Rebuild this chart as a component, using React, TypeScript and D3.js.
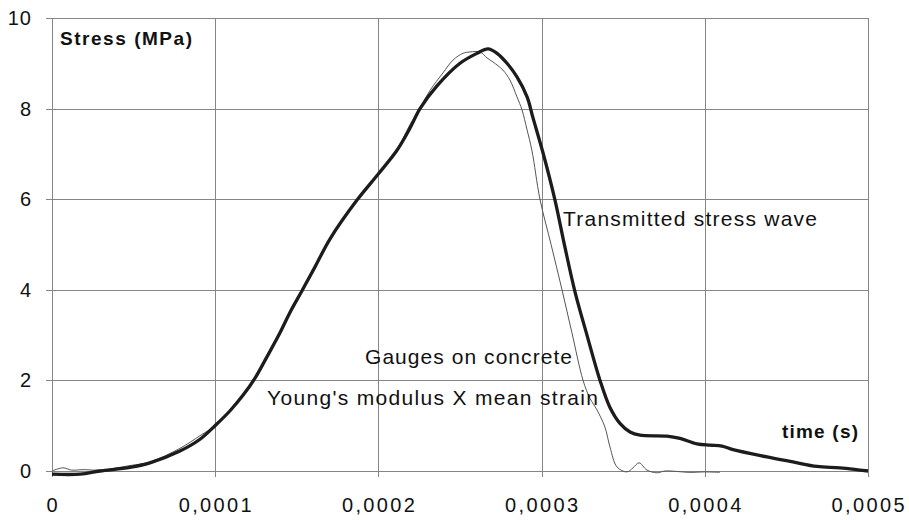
import React from "react";
import * as d3 from "d3";

// time in seconds, stress in MPa
const transmittedTime = [
  0, 17.2e-6, 29.4e-6, 47.8e-6, 60.0e-6, 78.4e-6, 90.7e-6, 100.5e-6, 109.1e-6, 117.0e-6, 124.4e-6,
  131.7e-6, 139.7e-6, 145.8e-6, 153.2e-6, 161.1e-6, 170.3e-6, 186.9e-6, 199.8e-6,
  211.4e-6, 219.4e-6, 225.5e-6, 235.9e-6, 250.0e-6, 260.4e-6, 267.2e-6, 272.7e-6, 278.8e-6,
  284.9e-6, 291.1e-6, 294.7e-6, 300.9e-6, 308.2e-6, 314.3e-6, 320.5e-6, 327.8e-6, 335.8e-6,
  341.9e-6, 348.0e-6, 354.2e-6, 360.3e-6, 376.8e-6, 384.8e-6, 395.2e-6, 403.2e-6, 410.5e-6,
  417.3e-6, 438.1e-6, 454.0e-6, 468.8e-6, 482.8e-6, 495.1e-6, 500e-6,
];
const transmittedStress = [
  -0.07, -0.07, 0.0, 0.08, 0.18, 0.44, 0.7, 1.02, 1.33, 1.67, 2.05,
  2.52, 3.05, 3.5, 3.98, 4.5, 5.12, 5.98, 6.55,
  7.08, 7.57, 8.0, 8.5, 9.0, 9.22, 9.32, 9.22, 9.0,
  8.7, 8.26, 7.8, 7.02, 5.98, 4.94, 3.95, 3.0, 2.0,
  1.4, 1.05, 0.86, 0.79, 0.77, 0.72, 0.6, 0.57, 0.55,
  0.47, 0.31, 0.2, 0.1, 0.07, 0.02, 0.0,
];

const gaugeTime = [
  0, 6.7e-6, 12e-6, 19e-6, 29.4e-6, 47.8e-6, 60.0e-6, 78.4e-6, 90.7e-6, 100.5e-6,
  115.2e-6, 124.4e-6, 131.7e-6, 139.7e-6, 153.2e-6, 170.3e-6, 186.9e-6, 199.8e-6, 211.4e-6,
  219.4e-6, 225.5e-6, 231.6e-6, 239.6e-6, 245.7e-6, 251.8e-6, 256.1e-6, 262.3e-6, 266.5e-6,
  270.2e-6, 276.3e-6, 280.6e-6, 284.9e-6, 288.0e-6, 291.1e-6, 294.1e-6, 299.0e-6, 305.8e-6,
  312.5e-6, 318.6e-6, 325.4e-6, 329.7e-6, 333.9e-6, 338.8e-6, 341.9e-6, 346.2e-6, 352.3e-6,
  356.0e-6, 359.7e-6, 364.6e-6, 370.7e-6, 375.6e-6, 390.9e-6, 400e-6, 409.3e-6,
];
const gaugeStress = [
  0.0, 0.07, 0.02, 0.03, 0.02, 0.12, 0.2, 0.5, 0.78, 1.02,
  1.62, 2.05, 2.5, 3.05, 3.98, 5.14, 5.98, 6.55, 7.1,
  7.65, 8.02, 8.4, 8.79, 9.07, 9.22, 9.25, 9.25, 9.12,
  9.03, 8.85, 8.63, 8.26, 7.97, 7.53, 7.07, 6.0, 5.0,
  4.0, 3.05, 2.0, 1.6, 1.35, 0.97, 0.53, 0.09, -0.02,
  0.07, 0.18, 0.02, -0.04, 0.0, -0.03, -0.02, -0.03,
];

const xTicks = [0, 0.0001, 0.0002, 0.0003, 0.0004, 0.0005];
const xTickLabels = ["0", "0,0001", "0,0002", "0,0003", "0,0004", "0,0005"];
const yTicks = [0, 2, 4, 6, 8, 10];
const yTickLabels = ["0", "2", "4", "6", "8", "10"];

const W = 909;
const H = 520;
const FONT = "'Liberation Sans', Arial, Helvetica, sans-serif";

export default function App() {
  const x = d3.scaleLinear().domain([0, 0.0005]).range([52, 868]);
  const y = d3.scaleLinear().domain([0, 10]).range([471, 18]);

  const thick = transmittedTime.map((t, i) => [t, transmittedStress[i]] as [number, number]);
  const thin = gaugeTime.map((t, i) => [t, gaugeStress[i]] as [number, number]);

  const line = d3
    .line<[number, number]>()
    .x((d) => x(d[0]))
    .y((d) => y(d[1]))
    .curve(d3.curveCatmullRom.alpha(0.5));

  const [x0, x1] = x.range();
  const [y0, y1] = y.range();

  return (
    <svg
      width={W}
      height={H}
      style={{ position: "absolute", left: 0, top: 0, background: "#fff", display: "block" }}
      fontFamily={FONT}
    >
      <rect x={0} y={0} width={W} height={H} fill="#fff" />
      {/* grid */}
      <g stroke="#858585" strokeWidth={1} shapeRendering="crispEdges">
        {yTicks.map((v) => (
          <line key={"gy" + v} x1={x0 - 6} x2={x1} y1={Math.round(y(v)) + 0.5} y2={Math.round(y(v)) + 0.5} />
        ))}
        {xTicks.map((v) => (
          <line key={"gx" + v} x1={Math.round(x(v)) + 0.5} x2={Math.round(x(v)) + 0.5} y1={y1} y2={y0 + 6} />
        ))}
      </g>
      {/* tick labels */}
      <g fill="#111" fontSize={20}>
        {yTicks.map((v, i) => (
          <text key={"ty" + v} x={32} y={y(v) + 7} textAnchor="end" letterSpacing={1}>
            {yTickLabels[i]}
          </text>
        ))}
        {xTicks.map((v, i) => (
          <text
            key={"tx" + v}
            x={x(v)}
            y={512}
            textAnchor="middle"
            textLength={i === 0 ? undefined : 73}
            lengthAdjust="spacing"
          >
            {xTickLabels[i]}
          </text>
        ))}
      </g>
      {/* series */}
      <path d={line(thin) || ""} fill="none" stroke="#555" strokeWidth={1} />
      <path d={line(thick) || ""} fill="none" stroke="#1c1c1c" strokeWidth={3.3} strokeLinejoin="round" />
      {/* labels */}
      <g fill="#111">
        <text x={60} y={45} fontSize={19} fontWeight="bold" textLength={132} lengthAdjust="spacing">
          Stress (MPa)
        </text>
        <text x={782} y={438} fontSize={19} fontWeight="bold" textLength={76} lengthAdjust="spacing">
          time (s)
        </text>
        <text x={563} y={226} fontSize={21} textLength={254} lengthAdjust="spacing">
          Transmitted stress wave
        </text>
        <text x={365} y={364} fontSize={21} textLength={207} lengthAdjust="spacing">
          Gauges on concrete
        </text>
        <text x={267} y={405} fontSize={21} textLength={331} lengthAdjust="spacing">
          Young's modulus X mean strain
        </text>
      </g>
    </svg>
  );
}
